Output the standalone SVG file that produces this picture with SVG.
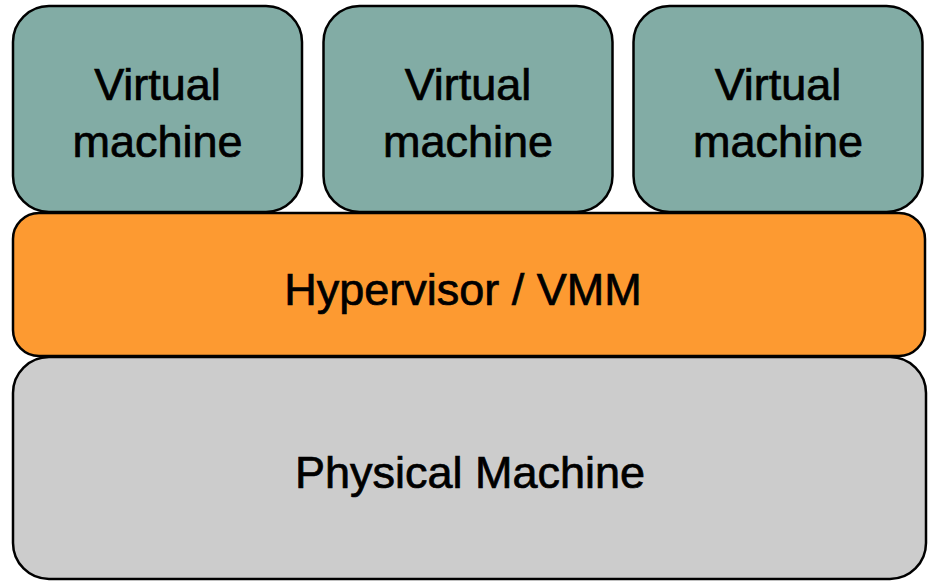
<svg xmlns="http://www.w3.org/2000/svg" width="930" height="581" viewBox="0 0 930 581">
  <style>
    .box { stroke: #000; stroke-width: 2.5; }
    .vm { fill: #82aca5; }
    .hv { fill: #fd9a31; }
    .hw { fill: #cccccc; }
    .lbl { font-family: "Liberation Sans", Arial, sans-serif; font-size: 45px; fill: #000; stroke: #000; stroke-width: 0.7; text-anchor: middle; }
  </style>
  <rect width="930" height="581" fill="#ffffff"/>

  <!-- physical machine layer -->
  <g id="physical">
    <rect class="box hw" x="13" y="357" width="913" height="222" rx="36" ry="36"/>
    <text class="lbl" x="470" y="488">Physical Machine</text>
  </g>

  <!-- hypervisor layer -->
  <g id="hypervisor">
    <rect class="box hv" x="13" y="213" width="912" height="143" rx="26" ry="26"/>
    <text class="lbl" x="463" y="305">Hypervisor / VMM</text>
  </g>

  <!-- guest VMs -->
  <g id="vm1">
    <rect class="box vm" x="13" y="6" width="289" height="206" rx="36" ry="36"/>
    <text class="lbl" x="157.5" y="100">Virtual</text>
    <text class="lbl" x="157.5" y="157">machine</text>
  </g>
  <g id="vm2">
    <rect class="box vm" x="323.5" y="6" width="289" height="206" rx="36" ry="36"/>
    <text class="lbl" x="468" y="100">Virtual</text>
    <text class="lbl" x="468" y="157">machine</text>
  </g>
  <g id="vm3">
    <rect class="box vm" x="633.5" y="6" width="289" height="206" rx="36" ry="36"/>
    <text class="lbl" x="778" y="100">Virtual</text>
    <text class="lbl" x="778" y="157">machine</text>
  </g>

  <g id="connectors"/>
</svg>
